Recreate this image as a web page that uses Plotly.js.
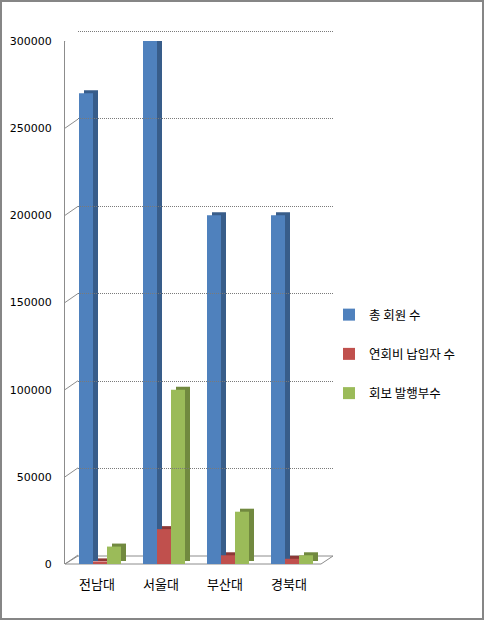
<!DOCTYPE html>
<html>
<head>
<meta charset="utf-8">
<script src="https://cdn.plot.ly/plotly-3.0.1.min.js"></script>
<style>html,body{margin:0;padding:0;background:#fff;}#chart{width:484px;height:620px;}</style>
</head>
<body>
<div id="chart"></div>
<script>
// ---- data ----
const categories = ['전남대', '서울대', '부산대', '경북대'];
const seriesNames = ['총 회원 수', '연회비 납입자 수', '회보 발행부수'];
const totalMembers = [270000, 300000, 200000, 200000];
const duesPayers = [1500, 20000, 5000, 3000];
const newsletterCopies = [10000, 100000, 30000, 5000];
const yTicks = [0, 50000, 100000, 150000, 200000, 250000, 300000];

// ---- style ----
const W = 484, H = 620;
const px = v => v / W, py = v => 1 - v / H;
const frontColors = ['#4F81BD', '#C0504D', '#9BBB59'];
const sideColors = ['#385D8A', '#8C3836', '#71893F'];
const catPx = 64;                 // px per category
const barW = 14 / catPx;          // bar width in category units
const offsets = [-18 / catPx, -4 / catPx, 10 / catPx];
const dxSide = 5 / catPx;         // 3D depth shift (x)
const unitsPerPx = 300000 / 523;  // y units per pixel
const dySide = 3 * unitsPerPx;    // 3D depth shift (y)
const wallDy = 9 * unitsPerPx;

const series = [totalMembers, duesPayers, newsletterCopies];
const traces = [];
// side/top faces drawn first
series.forEach((vals, i) => {
  traces.push({
    type: 'bar', x: categories, y: vals, base: vals.map(() => dySide),
    offset: offsets[i] + dxSide, width: barW, cliponaxis: false,
    marker: {color: sideColors[i], line: {width: 0}},
    showlegend: false, hoverinfo: 'skip', xaxis: 'x', yaxis: 'y'
  });
});
series.forEach((vals, i) => {
  traces.push({
    type: 'bar', name: seriesNames[i], x: categories, y: vals,
    offset: offsets[i], width: barW, cliponaxis: false,
    marker: {color: frontColors[i], line: {width: 0}},
    legendgroup: 'g' + i, xaxis: 'x', yaxis: 'y'
  });
});

const shapes = [];
// floor parallelogram
shapes.push({type: 'path', xref: 'paper', yref: 'paper',
  path: `M ${px(65)} ${py(564)} L ${px(321)} ${py(564)} L ${px(333)} ${py(556)} L ${px(78)} ${py(556)} Z`,
  line: {color: '#8c8c8c', width: 1}, fillcolor: 'rgba(0,0,0,0)', layer: 'below'});
// slanted tick connectors on the left wall
yTicks.forEach(t => {
  shapes.push({type: 'line', xref: 'paper', yref: 'y', x0: px(65), x1: px(78), y0: t, y1: t + wallDy,
    line: {color: '#8c8c8c', width: 1}, layer: 'above'});
});
// outer frame
shapes.push({type: 'rect', xref: 'paper', yref: 'paper', x0: 0, y0: 0, x1: 1, y1: 1,
  line: {color: '#868686', width: 4}, fillcolor: 'rgba(0,0,0,0)'});

const wallTop = 556 - 525 * (310000 / 300000);

const layout = {
  width: W, height: H,
  margin: {l: 0, r: 0, t: 0, b: 0},
  paper_bgcolor: '#ffffff', plot_bgcolor: 'rgba(0,0,0,0)',
  barmode: 'overlay',
  font: {family: 'DejaVu Sans, sans-serif', size: 11, color: '#000'},
  xaxis: {domain: [px(65), px(321)], type: 'category', range: [-0.5, 3.5],
    showgrid: false, zeroline: false, showline: false, ticks: '',
    tickfont: {family: 'Noto Sans CJK KR', size: 13, color: '#000'}, ticklabelstandoff: 11, fixedrange: true},
  yaxis: {domain: [1 - 564 / H, 1 - 41 / H], range: [0, 300000], tickvals: yTicks,
    ticktext: yTicks.map(String), showgrid: false, zeroline: false,
    showline: true, linecolor: '#8c8c8c', linewidth: 1, ticks: '', ticklabelstandoff: 10,
    tickfont: {family: 'DejaVu Sans', size: 11, color: '#000'}, fixedrange: true},
  // back wall gridlines
  xaxis2: {domain: [px(78), px(333)], anchor: 'y2', range: [0, 1], showgrid: false, zeroline: false,
    showticklabels: false, showline: false, ticks: ''},
  yaxis2: {domain: [1 - 556 / H, 1 - wallTop / H], anchor: 'x2', range: [0, 310000], tickvals: yTicks,
    showgrid: true, gridcolor: '#7a7a7a', griddash: '1px,1px', gridwidth: 1,
    zeroline: false, showticklabels: false, showline: false, ticks: ''},
  legend: {x: px(329), y: py(300), xanchor: 'left', yanchor: 'top',
    font: {family: 'Noto Sans CJK KR', size: 12.5, color: '#000'},
    traceorder: 'grouped', tracegroupgap: 20, bgcolor: 'rgba(0,0,0,0)'},
  shapes: shapes
};

traces.push({type: 'scatter', x: [0], y: [0], xaxis: 'x2', yaxis: 'y2', mode: 'markers',
  marker: {opacity: 0}, showlegend: false, hoverinfo: 'skip'});

Plotly.newPlot('chart', traces, layout, {displayModeBar: false, staticPlot: true});
</script>
</body>
</html>
